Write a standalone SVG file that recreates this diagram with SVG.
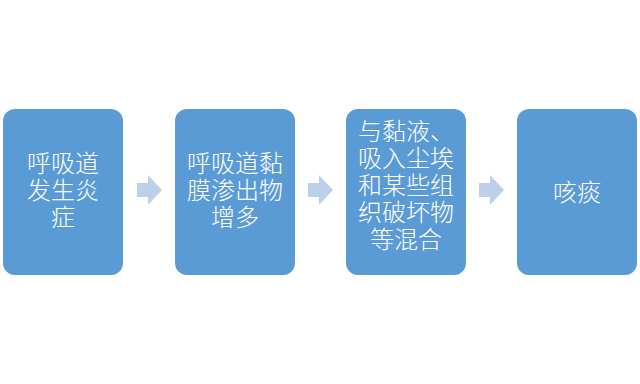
<svg xmlns="http://www.w3.org/2000/svg" width="640" height="384" viewBox="0 0 640 384">
<style>
.box{fill:#5B9BD5;}
.arrow{fill:#BDD0EA;}
.t{font-family:"Noto Sans CJK SC","Noto Sans CJK JP",sans-serif;font-size:24px;font-weight:300;fill:#FFFFFF;text-anchor:middle;}
</style>
<rect x="0" y="0" width="640" height="384" fill="#FFFFFF"/>
<g id="connectors">
<path class="arrow" d="M137,183 H148 V175 L162,190 L148,205 V197 H137 Z"/>
<path class="arrow" d="M308,183 H319 V175 L333,190 L319,205 V197 H308 Z"/>
<path class="arrow" d="M479,183 H490 V175 L504,190 L490,205 V197 H479 Z"/>
</g>
<g id="node1">
<rect class="box" x="3" y="109" width="120" height="166" rx="12" ry="12"/>
<text class="t"><tspan x="63" y="172">呼吸道</tspan><tspan x="63" y="199">发生炎</tspan><tspan x="63" y="226">症</tspan></text>
</g>
<g id="node2">
<rect class="box" x="175" y="109" width="120" height="166" rx="12" ry="12"/>
<text class="t"><tspan x="235" y="172">呼吸道黏</tspan><tspan x="235" y="199">膜渗出物</tspan><tspan x="235" y="226">增多</tspan></text>
</g>
<g id="node3">
<rect class="box" x="346" y="109" width="120" height="166" rx="12" ry="12"/>
<text class="t"><tspan x="406" y="140">与黏液、</tspan><tspan x="406" y="167">吸入尘埃</tspan><tspan x="406" y="194">和某些组</tspan><tspan x="406" y="221">织破坏物</tspan><tspan x="406" y="248">等混合</tspan></text>
</g>
<g id="node4">
<rect class="box" x="517" y="109" width="120" height="166" rx="12" ry="12"/>
<text class="t" x="577" y="201">咳痰</text>
</g>
</svg>
